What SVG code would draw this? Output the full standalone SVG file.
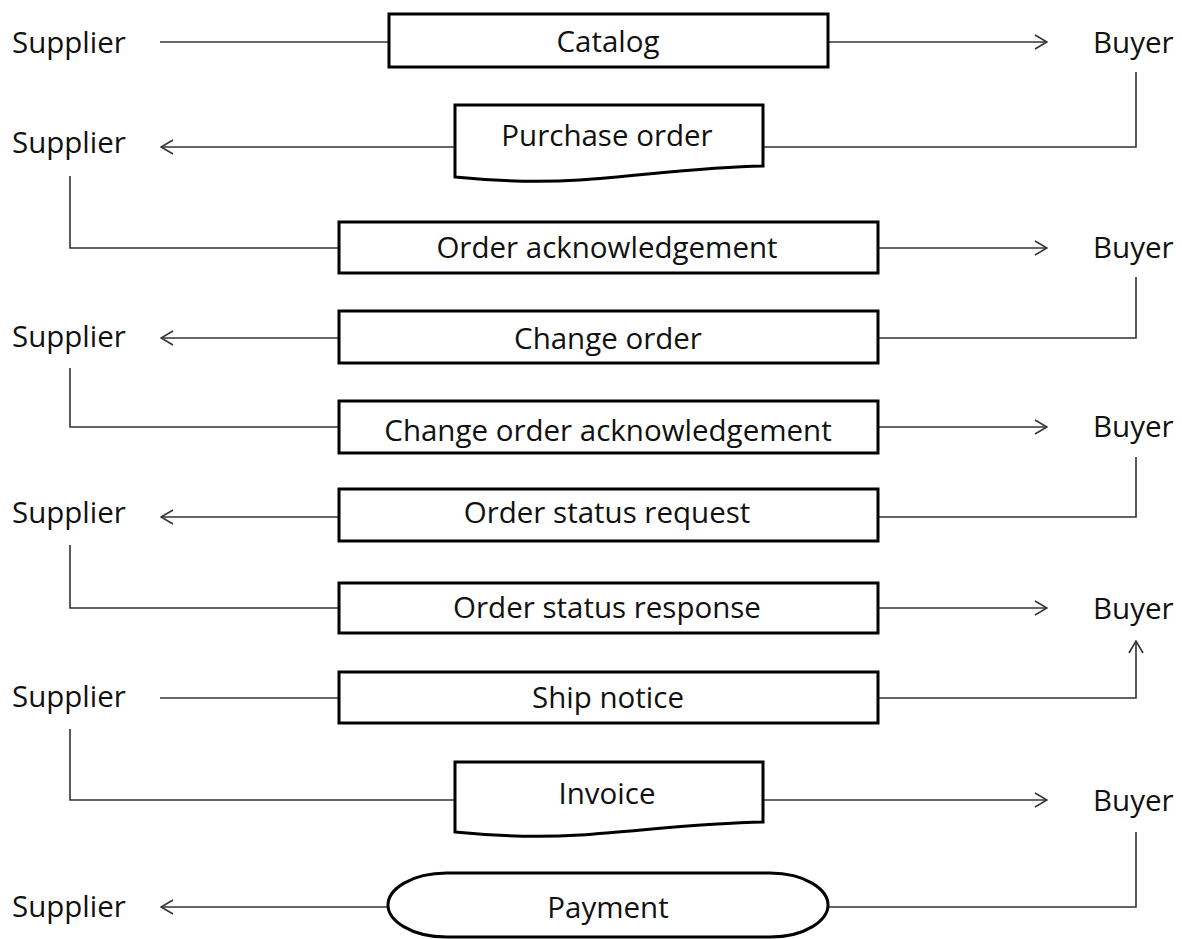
<svg xmlns="http://www.w3.org/2000/svg" width="1182" height="939" viewBox="0 0 1182 939">
<style>
.lbl{font-family:"Open Sans","Liberation Sans",sans-serif;font-size:29.5px;fill:#111}
.ctr{text-anchor:middle}
.shape{fill:#fff;stroke:#000;stroke-width:3}
.conn{fill:none;stroke:#333;stroke-width:1.6}
</style>
<defs>
<marker id="arr" viewBox="0 0 14 16" refX="13" refY="8" markerWidth="14" markerHeight="16" markerUnits="userSpaceOnUse" orient="auto">
<path d="M1,1 L13,8 L1,15" fill="none" stroke="#333" stroke-width="1.6"/>
</marker>
</defs>
<rect width="1182" height="939" fill="#fff"/>
<g id="connectors">
<path class="conn" d="M160,42 H389"/>
<path class="conn" d="M828,42 H1047" marker-end="url(#arr)"/>
<path class="conn" d="M1136,72 V147 H764"/>
<path class="conn" d="M455,147 H161" marker-end="url(#arr)"/>
<path class="conn" d="M70,176 V248 H339"/>
<path class="conn" d="M878,248 H1047" marker-end="url(#arr)"/>
<path class="conn" d="M1136,277 V338 H878"/>
<path class="conn" d="M339,338 H161" marker-end="url(#arr)"/>
<path class="conn" d="M70,368 V427 H339"/>
<path class="conn" d="M878,427 H1047" marker-end="url(#arr)"/>
<path class="conn" d="M1136,457 V517 H878"/>
<path class="conn" d="M339,517 H161" marker-end="url(#arr)"/>
<path class="conn" d="M70,545 V608 H339"/>
<path class="conn" d="M878,608 H1047" marker-end="url(#arr)"/>
<path class="conn" d="M160,698 H339"/>
<path class="conn" d="M878,698 H1136 V641" marker-end="url(#arr)"/>
<path class="conn" d="M70,729 V800 H455"/>
<path class="conn" d="M764,800 H1047" marker-end="url(#arr)"/>
<path class="conn" d="M1136,832 V907 H828"/>
<path class="conn" d="M388,907 H161" marker-end="url(#arr)"/>
</g>
<g id="actors">
<text class="lbl" x="12" y="53">Supplier</text>
<text class="lbl" x="1093" y="53">Buyer</text>
<text class="lbl" x="12" y="153">Supplier</text>
<text class="lbl" x="1093" y="258">Buyer</text>
<text class="lbl" x="12" y="347">Supplier</text>
<text class="lbl" x="1093" y="437">Buyer</text>
<text class="lbl" x="12" y="523">Supplier</text>
<text class="lbl" x="1093" y="619">Buyer</text>
<text class="lbl" x="12" y="707">Supplier</text>
<text class="lbl" x="1093" y="811">Buyer</text>
<text class="lbl" x="12" y="917">Supplier</text>
</g>
<g id="catalog">
<rect class="shape" x="389" y="14" width="439" height="53"/>
<text class="lbl ctr" x="608" y="52">Catalog</text>
</g>
<g id="purchase-order">
<path class="shape" d="M455,105 H763 V166 C700,167 640,176 580,180 C530,183 485,180 455,177 Z"/>
<text class="lbl ctr" x="607" y="146">Purchase order</text>
</g>
<g id="order-acknowledgement">
<rect class="shape" x="339" y="222" width="539" height="51"/>
<text class="lbl ctr" x="607" y="258">Order acknowledgement</text>
</g>
<g id="change-order">
<rect class="shape" x="339" y="311" width="539" height="52"/>
<text class="lbl ctr" x="608" y="349">Change order</text>
</g>
<g id="change-order-acknowledgement">
<rect class="shape" x="339" y="401" width="539" height="52"/>
<text class="lbl ctr" x="608" y="441">Change order acknowledgement</text>
</g>
<g id="order-status-request">
<rect class="shape" x="339" y="489" width="539" height="52"/>
<text class="lbl ctr" x="607" y="523">Order status request</text>
</g>
<g id="order-status-response">
<rect class="shape" x="339" y="583" width="539" height="50"/>
<text class="lbl ctr" x="607" y="618">Order status response</text>
</g>
<g id="ship-notice">
<rect class="shape" x="339" y="672" width="539" height="51"/>
<text class="lbl ctr" x="608" y="708">Ship notice</text>
</g>
<g id="invoice">
<path class="shape" d="M455,762 H763 V822 C700,823 640,831 580,835 C530,838 485,835 455,832 Z"/>
<text class="lbl ctr" x="607" y="804">Invoice</text>
</g>
<g id="payment">
<path class="shape" d="M447,873 H770 C806,873 828,890 828,905 C828,920 806,937 770,937 H447 C410,937 388,920 388,905 C388,890 410,873 447,873 Z"/>
<text class="lbl ctr" x="608" y="918">Payment</text>
</g>
</svg>
